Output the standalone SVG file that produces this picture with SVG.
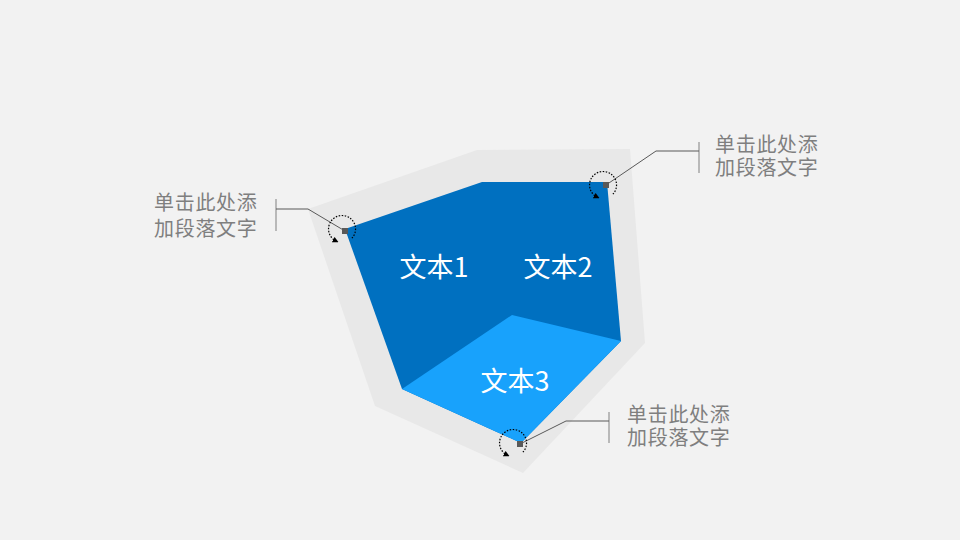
<svg xmlns="http://www.w3.org/2000/svg" width="960" height="540" viewBox="0 0 960 540">
  <style>
    .lbl { font-family: "Noto Sans CJK SC", "Noto Sans", sans-serif; font-size: 27px; fill: #ffffff; text-anchor: middle; }
    .note { font-family: "Noto Sans CJK SC", "Noto Sans", sans-serif; font-size: 20px; letter-spacing: 0.7px; fill: #7f7f7f; }
    .bar { stroke: #a6a6a6; stroke-width: 1.5; fill: none; }
    .lead { stroke: #595959; stroke-width: 1; fill: none; }
    .dot { stroke: #000000; stroke-width: 1.2; stroke-dasharray: 1.5 1.5; fill: none; }
    .sq { fill: #595959; }
  </style>
  <defs>
    <marker id="arr" viewBox="0 0 10 10" refX="5" refY="5" markerWidth="5" markerHeight="5" orient="auto">
      <path d="M0,0 L10,5 L0,10 z" fill="#000000"/>
    </marker>
  </defs>
  <rect x="0" y="0" width="960" height="540" fill="#f2f2f2"/>

  <g id="backdrop">
    <polygon points="308,209 477,150 630,149 645,343 523,473 375,406" fill="#e8e8e8"/>
  </g>

  <g id="face-1-2">
    <polygon points="345,229 482,182 607,182 621,341 521,443 402,389" fill="#0070c0"/>
    <text class="lbl" x="434" y="277">文本1</text>
    <text class="lbl" x="558" y="277">文本2</text>
  </g>

  <g id="face-3">
    <polygon points="512,315 621,341 521,443 402,389" fill="#18a2fc"/>
    <text class="lbl" x="515" y="391">文本3</text>
  </g>

  <g id="connectors">
    <line class="bar" x1="276" y1="199" x2="276" y2="231"/>
    <polyline class="lead" points="276,209 308,209 345,231"/>
    <line class="bar" x1="699" y1="142" x2="699" y2="173"/>
    <polyline class="lead" points="699,151 656,151 606,185"/>
    <line class="bar" x1="609" y1="412" x2="609" y2="443"/>
    <polyline class="lead" points="609,421 566,421 520,444"/>
  </g>

  <g id="marker-1">
    <path class="dot" d="M351.9,238.2 A13.5,13.5 0 1 0 335.9,241" marker-end="url(#arr)"/>
    <rect class="sq" x="342" y="228" width="6" height="6"/>
  </g>
  <g id="marker-2">
    <path class="dot" d="M612.9,194.2 A13.5,13.5 0 1 0 596.9,197" marker-end="url(#arr)"/>
    <rect class="sq" x="603" y="182" width="6" height="6"/>
  </g>
  <g id="marker-3">
    <path class="dot" d="M522.9,452.2 A13.5,13.5 0 1 0 506.9,455" marker-end="url(#arr)"/>
    <rect class="sq" x="517" y="441" width="6" height="6"/>
  </g>

  <g id="note-1">
    <text class="note"><tspan x="154" y="210">单击此处添</tspan><tspan x="154" y="236">加段落文字</tspan></text>
  </g>
  <g id="note-2">
    <text class="note"><tspan x="715" y="152">单击此处添</tspan><tspan x="715" y="175">加段落文字</tspan></text>
  </g>
  <g id="note-3">
    <text class="note"><tspan x="627" y="422">单击此处添</tspan><tspan x="627" y="445">加段落文字</tspan></text>
  </g>
</svg>
